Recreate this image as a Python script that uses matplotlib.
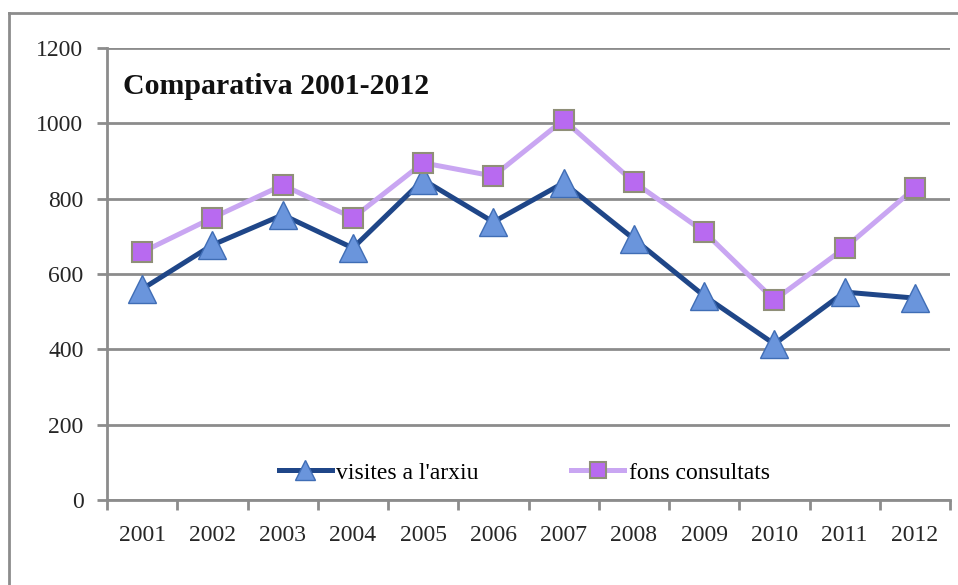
import numpy as np
import matplotlib
matplotlib.use("Agg")
import matplotlib.pyplot as plt
from matplotlib.lines import Line2D

# Data
years = ['2001', '2002', '2003', '2004', '2005', '2006',
         '2007', '2008', '2009', '2010', '2011', '2012']
visites = [560, 677, 757, 669, 850, 738, 842, 693, 542, 414, 552, 536]
fons = [658, 749, 836, 749, 895, 860, 1009, 844, 712, 531, 669, 828]

plt.rcParams['font.family'] = ['Liberation Serif', 'DejaVu Serif']

W, H = 958, 585
fig = plt.figure(figsize=(W / 100, H / 100), dpi=100)
ax = fig.add_axes([107 / W, 1 - 500 / H, (950 - 107) / W, (500 - 48) / H])

grid_c = '#8c8c8c'
x = np.arange(len(years))

ax.plot(x, visites, color='#1f4688', lw=3.6, marker='^', ms=20,
        mfc='#6a95dc', mec='#3f6db5', mew=1.0, label="visites a l'arxiu", zorder=3)
ax.plot(x, fons, color='#c9a6f2', lw=3.6, marker='s', ms=15,
        mfc='#b86af0', mec='#8f8f78', mew=1.5, label='fons consultats', zorder=4)

ax.set_xlim(-0.5, len(years) - 0.5)
ax.set_ylim(0, 1200)
ax.set_yticks(range(0, 1201, 200))
ax.yaxis.grid(True, color=grid_c, lw=2)
ax.set_axisbelow(True)

# category axis: labels centred, ticks between categories
ax.set_xticks(x)
ax.set_xticklabels(years)
ax.set_xticks(np.arange(-0.5, len(years)), minor=True)
ax.tick_params(axis='x', which='major', length=0, pad=18, labelsize=17, colors='#262626')
ax.tick_params(axis='x', which='minor', length=7, width=2, color=grid_c)
ax.tick_params(axis='y', length=7, width=2, color=grid_c, pad=10, labelsize=17,
               labelcolor='#262626')

for s in ['top', 'right']:
    ax.spines[s].set_visible(False)
for s in ['left', 'bottom']:
    ax.spines[s].set_color(grid_c)
    ax.spines[s].set_linewidth(2)

ax.text(0.019, 0.915, 'Comparativa 2001-2012', transform=ax.transAxes,
        fontsize=21.5, fontweight='bold', va='center', ha='left', color='#111111')

ax.legend(loc='center', bbox_to_anchor=(0.495, 0.06), ncol=2, frameon=False,
          fontsize=17, handlelength=2.25, handletextpad=0.2, columnspacing=3.9,
          markerscale=0.75)

# outer chart border (cropped on right and bottom)
fig.add_artist(Line2D([9 / W, 9 / W], [-0.1, 1 - 13 / H], transform=fig.transFigure,
                      color='#8c8c8c', lw=2))
fig.add_artist(Line2D([9 / W, 1.1], [1 - 13 / H, 1 - 13 / H], transform=fig.transFigure,
                      color='#8c8c8c', lw=2))

fig.savefig('out.png', dpi=100)
